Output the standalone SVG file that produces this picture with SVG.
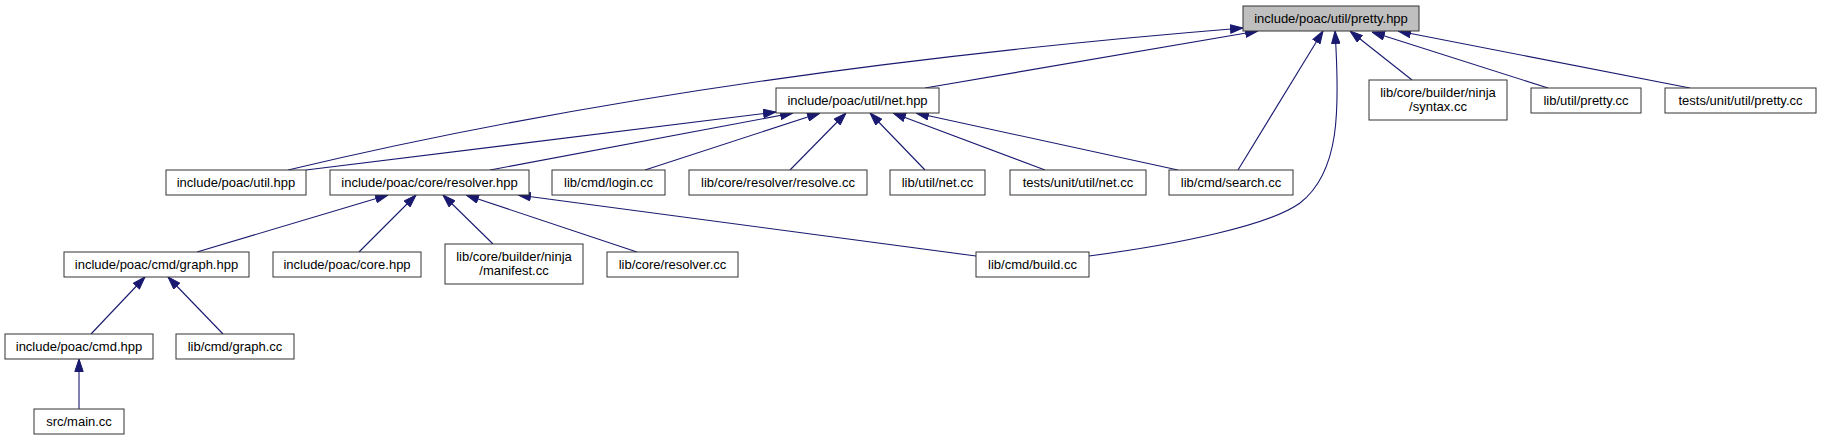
<svg xmlns="http://www.w3.org/2000/svg" width="1821" height="440" viewBox="0 0 1821 440">
<style>
.n rect{fill:#ffffff;stroke:#333333;stroke-width:1}
.n.root rect{fill:#bfbfbf}
.n text{font-family:"Liberation Sans",Arial,sans-serif;font-size:13px;text-anchor:middle;fill:#000000}
.e path{fill:none;stroke:#191970;stroke-width:1.1;marker-end:url(#arr)}
</style>
<defs>
<marker id="arr" viewBox="0 0 13 9.4" refX="13" refY="4.7" markerWidth="13" markerHeight="9.4" markerUnits="userSpaceOnUse" orient="auto">
<path d="M0.5,0.5 L13,4.7 L0.5,8.9 z" fill="#191970" stroke="#191970" stroke-width="1"/>
</marker>
</defs>
<rect width="1821" height="440" fill="#ffffff"/>
<g id="connectors" class="e">
<path d="M288,170 Q698,72 1243,28"/>
<path d="M925,88 L1258,31"/>
<path d="M1238,170 L1323,31"/>
<path d="M1089,256 C1180,244 1270,225 1300,203 C1340,172 1340,110 1335,31"/>
<path d="M1412,80 L1350,31"/>
<path d="M1548,88 L1372,32"/>
<path d="M1690,88 L1398,31"/>
<path d="M306,170 L776,112"/>
<path d="M490,170 L793,113"/>
<path d="M645,170 L820,113"/>
<path d="M790,170 L846,113"/>
<path d="M925,170 L870,113"/>
<path d="M1045,170 L893,113"/>
<path d="M1178,170 L916,113"/>
<path d="M197,252 L388,195"/>
<path d="M359,252 L416,195"/>
<path d="M493,244 L443,195"/>
<path d="M637,252 L466,195"/>
<path d="M976,256 L518,195"/>
<path d="M91,334 L145,277"/>
<path d="M223,334 L168,277"/>
<path d="M79,409 L79,359"/>
</g>
<g id="node-pretty-hpp" class="n root"><rect x="1243" y="6" width="176" height="25"/><text x="1331" y="23">include/poac/util/pretty.hpp</text></g>
<g id="node-net-hpp" class="n"><rect x="776" y="88" width="163" height="25"/><text x="857.5" y="105">include/poac/util/net.hpp</text></g>
<g id="node-syntax-cc" class="n"><rect x="1369" y="80" width="138" height="40"/><text x="1438" y="97">lib/core/builder/ninja</text><text x="1438" y="111">/syntax.cc</text></g>
<g id="node-util-pretty-cc" class="n"><rect x="1531" y="88" width="110" height="25"/><text x="1586" y="105">lib/util/pretty.cc</text></g>
<g id="node-tests-pretty-cc" class="n"><rect x="1665" y="88" width="151" height="25"/><text x="1740.5" y="105">tests/unit/util/pretty.cc</text></g>
<g id="node-util-hpp" class="n"><rect x="166" y="170" width="140" height="25"/><text x="236" y="187">include/poac/util.hpp</text></g>
<g id="node-resolver-hpp" class="n"><rect x="330" y="170" width="199" height="25"/><text x="429.5" y="187">include/poac/core/resolver.hpp</text></g>
<g id="node-login-cc" class="n"><rect x="552" y="170" width="113" height="25"/><text x="608.5" y="187">lib/cmd/login.cc</text></g>
<g id="node-resolve-cc" class="n"><rect x="689" y="170" width="178" height="25"/><text x="778" y="187">lib/core/resolver/resolve.cc</text></g>
<g id="node-util-net-cc" class="n"><rect x="890" y="170" width="95" height="25"/><text x="937.5" y="187">lib/util/net.cc</text></g>
<g id="node-tests-net-cc" class="n"><rect x="1010" y="170" width="136" height="25"/><text x="1078" y="187">tests/unit/util/net.cc</text></g>
<g id="node-search-cc" class="n"><rect x="1169" y="170" width="124" height="25"/><text x="1231" y="187">lib/cmd/search.cc</text></g>
<g id="node-graph-hpp" class="n"><rect x="64" y="252" width="185" height="25"/><text x="156.5" y="269">include/poac/cmd/graph.hpp</text></g>
<g id="node-core-hpp" class="n"><rect x="273" y="252" width="148" height="25"/><text x="347" y="269">include/poac/core.hpp</text></g>
<g id="node-manifest-cc" class="n"><rect x="445" y="244" width="138" height="40"/><text x="514" y="261">lib/core/builder/ninja</text><text x="514" y="275">/manifest.cc</text></g>
<g id="node-resolver-cc" class="n"><rect x="607" y="252" width="131" height="25"/><text x="672.5" y="269">lib/core/resolver.cc</text></g>
<g id="node-build-cc" class="n"><rect x="976" y="252" width="113" height="25"/><text x="1032.5" y="269">lib/cmd/build.cc</text></g>
<g id="node-cmd-hpp" class="n"><rect x="5" y="334" width="148" height="25"/><text x="79" y="351">include/poac/cmd.hpp</text></g>
<g id="node-graph-cc" class="n"><rect x="176" y="334" width="118" height="25"/><text x="235" y="351">lib/cmd/graph.cc</text></g>
<g id="node-main-cc" class="n"><rect x="34" y="409" width="90" height="25"/><text x="79" y="426">src/main.cc</text></g>
</svg>
